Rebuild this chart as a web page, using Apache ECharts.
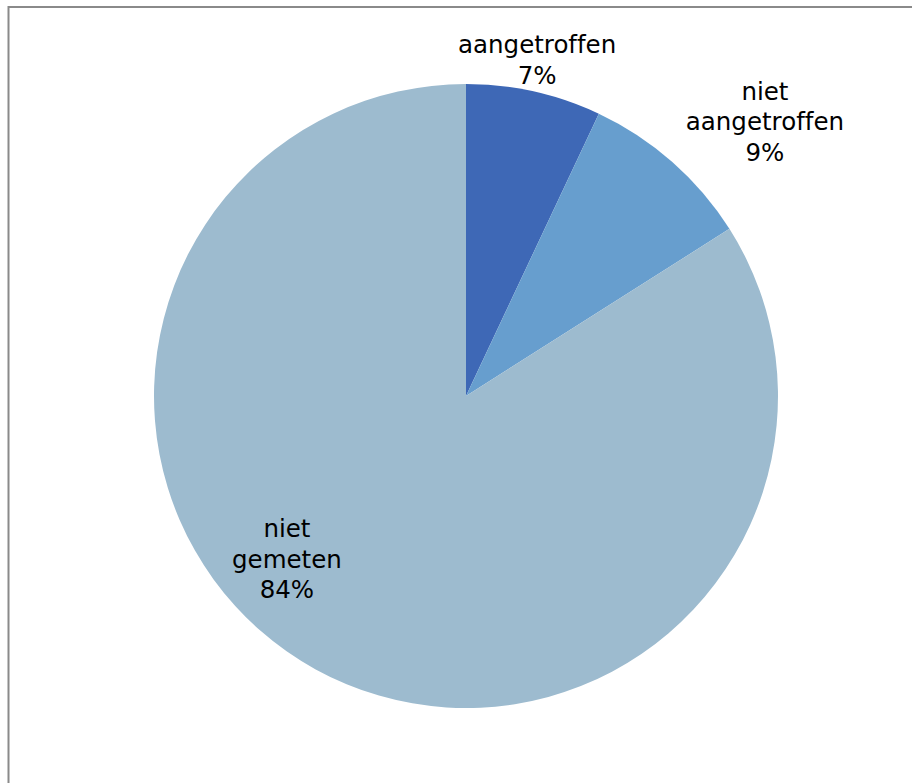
<!DOCTYPE html>
<html>
<head>
<meta charset="utf-8">
<title>aangetroffen / niet aangetroffen / niet gemeten</title>
<script src="https://cdn.jsdelivr.net/npm/echarts@6/dist/echarts.min.js"></script>
<style>
  html, body { margin: 0; padding: 0; background: #ffffff; }
  #chart { width: 912px; height: 783px; }
  /* keep "ff" as two separate glyphs */
  #chart text { font-variant-ligatures: none; font-feature-settings: "liga" 0; }
</style>
</head>
<body>
<div id="chart"></div>
<script>
// Share of locations per measurement outcome (percent)
const categories = ['aangetroffen', 'niet aangetroffen', 'niet gemeten'];
const shares = [7, 9, 84];
const sliceColors = ['#3E68B6', '#679ECE', '#9DBBCF'];

// Label anchor offsets from the pie centre, in units of the pie radius
const labelOffsets = [
  [0.228, -1.077],
  [0.958, -0.879],
  [-0.574, 0.524]
];

const W = 912, H = 783;
const cx = 466, cy = 396, R = 312;

const chart = echarts.init(document.getElementById('chart'), null, { renderer: 'svg' });

chart.setOption({
  backgroundColor: '#ffffff',
  animation: false,
  color: sliceColors,
  graphic: [{
    type: 'polyline',
    shape: { points: [[8.5, H], [8.5, 7], [W, 7]] },
    style: { stroke: '#8a8a8a', lineWidth: 2, fill: null }
  }],
  series: [{
    type: 'pie',
    center: [cx, cy],
    radius: [0, R],
    startAngle: 90,
    clockwise: true,
    avoidLabelOverlap: false,
    itemStyle: { borderWidth: 0 },
    label: {
      show: true,
      position: 'outside',
      formatter: p => p.name.split(' ').join('\n') + '\n' + p.value + '%',
      fontFamily: 'DejaVu Sans',
      fontSize: 24.5,
      lineHeight: 30.5,
      color: '#000000',
      align: 'center'
    },
    labelLine: { show: false },
    labelLayout: function (params) {
      const o = labelOffsets[params.dataIndex];
      return {
        x: cx + o[0] * R,
        y: cy + o[1] * R,
        align: 'center',
        verticalAlign: 'middle'
      };
    },
    emphasis: { disabled: true },
    data: categories.map((name, i) => ({ name: name, value: shares[i] }))
  }]
});
</script>
</body>
</html>
